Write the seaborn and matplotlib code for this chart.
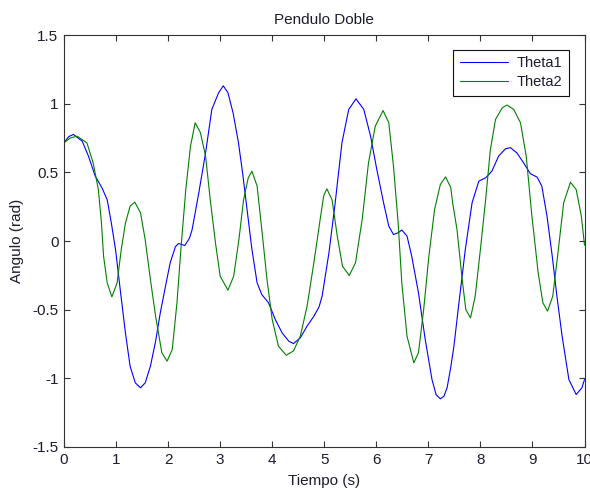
import matplotlib
matplotlib.use("Agg")
import matplotlib.pyplot as plt
import seaborn as sns
import pandas as pd

# ---- data ----
t_theta1 = [0.0, 0.09, 0.18, 0.35, 0.47, 0.60, 0.73, 0.83, 0.91, 0.99, 1.08, 1.18, 1.27,
            1.37, 1.47, 1.56, 1.66, 1.76, 1.85, 1.95, 2.04, 2.14, 2.20, 2.32, 2.41, 2.46,
            2.59, 2.72, 2.84, 2.97, 3.06, 3.15, 3.25, 3.35, 3.43, 3.52, 3.61, 3.71, 3.80,
            3.93, 4.06, 4.19, 4.32, 4.41, 4.54, 4.67, 4.80, 4.90, 4.96, 5.09, 5.21, 5.34,
            5.47, 5.61, 5.76, 5.89, 6.01, 6.14, 6.24, 6.33, 6.42, 6.49, 6.59, 6.68, 6.81,
            6.94, 7.07, 7.15, 7.23, 7.30, 7.36, 7.43, 7.49, 7.58, 7.71, 7.84, 7.97, 8.10,
            8.22, 8.35, 8.48, 8.575, 8.70, 8.83, 8.96, 9.09, 9.18, 9.28, 9.38, 9.47, 9.57,
            9.70, 9.84, 9.95, 10.0]
theta1 = [0.715, 0.76, 0.776, 0.727, 0.618, 0.472, 0.387, 0.30, 0.13, -0.062, -0.353, -0.669, -0.912,
          -1.033, -1.069, -1.033, -0.912, -0.73, -0.523, -0.329, -0.159, -0.042, -0.018, -0.033, 0.02, 0.08,
          0.351, 0.642, 0.958, 1.079, 1.13, 1.08, 0.93, 0.72, 0.50, 0.22, -0.06, -0.305, -0.39,
          -0.45, -0.572, -0.669, -0.73, -0.747, -0.705, -0.62, -0.548, -0.48, -0.40, -0.086, 0.278, 0.715,
          0.958, 1.035, 0.958, 0.763, 0.52, 0.278, 0.108, 0.047, 0.06, 0.08, 0.036, -0.11, -0.377,
          -0.717, -1.009, -1.12, -1.149, -1.13, -1.069, -0.92, -0.77, -0.475, -0.062, 0.278, 0.436, 0.46,
          0.508, 0.618, 0.671, 0.68, 0.642, 0.569, 0.49, 0.465, 0.40, 0.18, -0.11, -0.402, -0.693,
          -1.009, -1.118, -1.069, -1.009]

t_theta2 = [0.0, 0.12, 0.25, 0.44, 0.56, 0.66, 0.72, 0.76, 0.83, 0.92, 1.02, 1.10, 1.18,
            1.27, 1.36, 1.47, 1.56, 1.66, 1.76, 1.88, 1.98, 2.08, 2.17, 2.25, 2.34, 2.43,
            2.52, 2.62, 2.72, 2.81, 2.91, 3.00, 3.15, 3.26, 3.36, 3.45, 3.54, 3.61, 3.71,
            3.80, 3.90, 4.00, 4.12, 4.27, 4.41, 4.54, 4.67, 4.80, 4.93, 4.99, 5.05, 5.15,
            5.25, 5.35, 5.48, 5.60, 5.73, 5.85, 5.98, 6.13, 6.24, 6.33, 6.42, 6.49, 6.59,
            6.72, 6.81, 6.91, 7.01, 7.12, 7.23, 7.33, 7.43, 7.47, 7.55, 7.65, 7.72, 7.81,
            7.90, 8.00, 8.10, 8.19, 8.29, 8.42, 8.51, 8.64, 8.77, 8.88, 8.99, 9.11, 9.20,
            9.29, 9.39, 9.49, 9.60, 9.73, 9.84, 9.94, 10.0]
theta2 = [0.715, 0.75, 0.763, 0.715, 0.569, 0.375, 0.13, -0.11, -0.305, -0.407, -0.305, -0.062, 0.13,
          0.254, 0.283, 0.205, 0.01, -0.28, -0.548, -0.814, -0.875, -0.79, -0.45, -0.04, 0.375, 0.69,
          0.861, 0.79, 0.618, 0.30, -0.013, -0.256, -0.358, -0.256, 0.01, 0.30, 0.46, 0.508, 0.40,
          0.084, -0.28, -0.572, -0.766, -0.832, -0.80, -0.693, -0.475, -0.159, 0.18, 0.33, 0.38, 0.30,
          0.036, -0.183, -0.251, -0.159, 0.16, 0.569, 0.836, 0.95, 0.861, 0.545, 0.13, -0.305, -0.693,
          -0.887, -0.814, -0.499, -0.11, 0.23, 0.411, 0.467, 0.39, 0.27, 0.084, -0.28, -0.499, -0.56,
          -0.402, -0.062, 0.30, 0.66, 0.885, 0.97, 0.99, 0.958, 0.861, 0.618, 0.18, -0.232, -0.45,
          -0.511, -0.402, -0.086, 0.278, 0.428, 0.375, 0.18, -0.03]

series_names = ["Theta1", "Theta2"]
x_ticks = [0, 1, 2, 3, 4, 5, 6, 7, 8, 9, 10]
y_ticks = [-1.5, -1, -0.5, 0, 0.5, 1, 1.5]
y_tick_labels = ["-1.5", "-1", "-0.5", "0", "0.5", "1", "1.5"]
title = "Pendulo Doble"
x_label = "Tiempo (s)"
y_label = "Angulo (rad)"

df = pd.concat([
    pd.DataFrame({"t": t_theta1, "ang": theta1, "serie": series_names[0]}),
    pd.DataFrame({"t": t_theta2, "ang": theta2, "serie": series_names[1]}),
], ignore_index=True)

sns.set_style("white")
plt.rcParams["font.family"] = ["Liberation Sans", "DejaVu Sans"]
txt = "#1c1c2e"

fig = plt.figure(figsize=(5.9, 4.9), dpi=100)
ax = fig.add_axes([64 / 590, 1 - 447 / 490, 520.5 / 590, 412 / 490])

sns.lineplot(data=df, x="t", y="ang", hue="serie", palette=["#0000ff", "#008000"],
             estimator=None, sort=False, linewidth=0.8, ax=ax)

ax.set_xlim(0, 10)
ax.set_ylim(-1.5, 1.5)
ax.set_xticks(x_ticks)
ax.set_xticklabels([str(v) for v in x_ticks])
ax.set_yticks(y_ticks)
ax.set_yticklabels(y_tick_labels)
ax.tick_params(direction="in", length=4, width=0.8, top=True, right=True,
               bottom=True, left=True, labelsize=11, colors="#333333",
               labelcolor=txt)
ax.tick_params(axis="x", pad=4)
ax.tick_params(axis="y", pad=4)
for s in ax.spines.values():
    s.set_visible(True)
    s.set_color("#333333")
    s.set_linewidth(0.8)

ax.set_title(title, fontsize=11, color=txt, pad=8)
ax.set_xlabel(x_label, fontsize=11, color=txt, labelpad=5)
ax.set_ylabel(y_label, fontsize=11, color=txt, labelpad=6)

leg = ax.legend(loc="upper right", bbox_to_anchor=(0.970, 0.964), borderaxespad=0,
                fancybox=False, framealpha=1, edgecolor="#111111", fontsize=10.5,
                handlelength=3.3, handletextpad=0.6, borderpad=0.45, labelspacing=0.35,
                title=None)
leg.get_frame().set_linewidth(0.8)
for t in leg.get_texts():
    t.set_color(txt)

fig.savefig("out.png", dpi=100, facecolor="white")
